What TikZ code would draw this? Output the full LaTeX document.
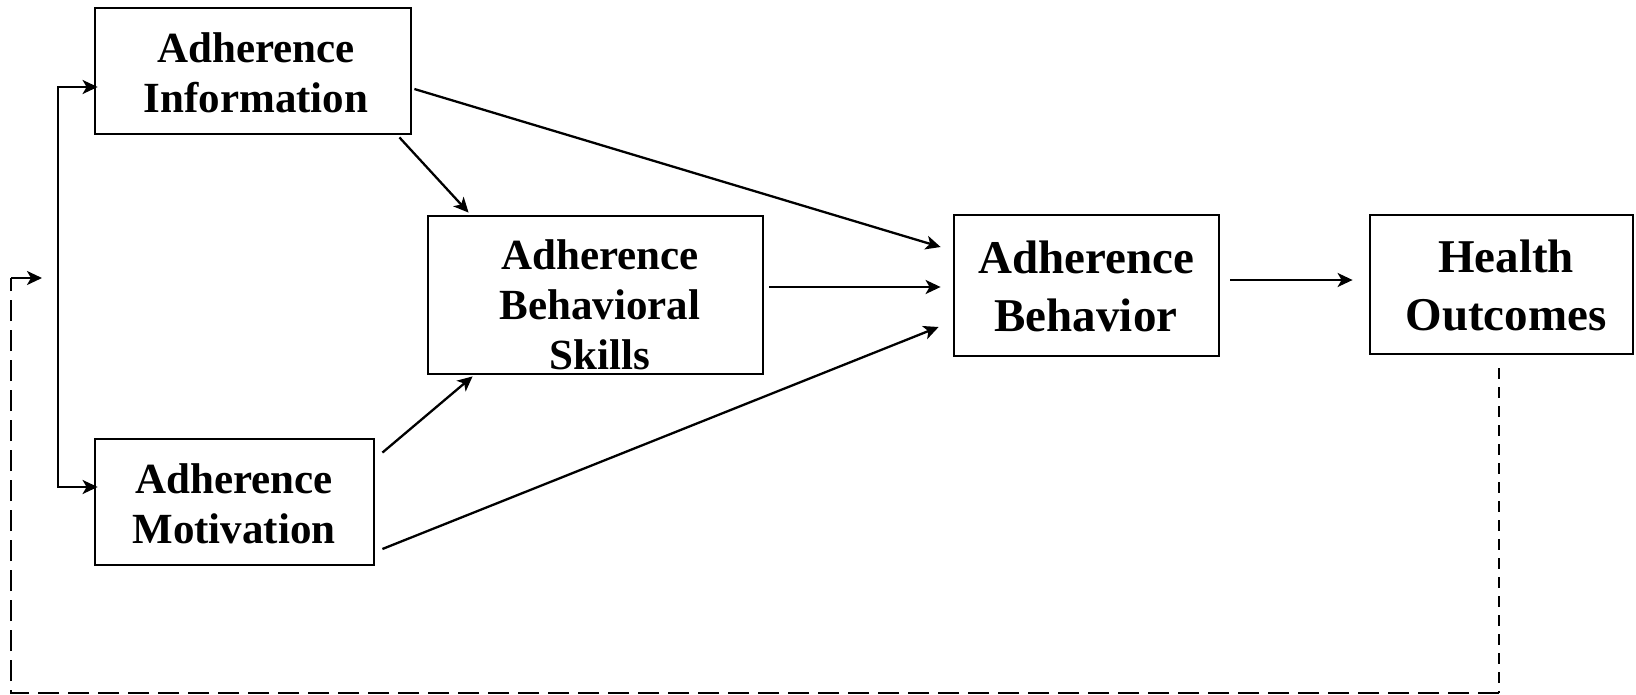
\documentclass[tikz,border=0pt]{standalone}
\usepackage{fontspec}
\setmainfont{Liberation Serif}
\usetikzlibrary{arrows.meta,calc}
\begin{document}
\begin{tikzpicture}[x=1pt,y=-1pt,
  box/.style={draw=black,line width=2.8pt,rectangle,inner sep=0pt},
  lblS/.style={align=center,inner sep=0pt,font={\fontsize{43}{50}\selectfont\bfseries}},
  lblL/.style={align=center,inner sep=0pt,font={\fontsize{47}{58}\selectfont\bfseries}},
  arr/.style={line width=2.3pt,-{Stealth[length=15pt,width=14pt,inset=4pt]}},
  arrboth/.style={line width=2.3pt,{Stealth[length=15pt,width=14pt,inset=4pt]}-{Stealth[length=15pt,width=14pt,inset=4pt]}},
  dlong/.style={line width=2.2pt,dash pattern=on 21pt off 9pt},
  dshort/.style={line width=2.8pt,dash pattern=on 11pt off 8pt}
]
\useasboundingbox (0,0) rectangle (1636,695);

% boxes
\node[box,minimum width=316pt,minimum height=126pt] (info)   at (253,71)     {};
\node[box,minimum width=279pt,minimum height=126pt] (motiv)  at (234.5,502)  {};
\node[box,minimum width=335pt,minimum height=158pt] (skills) at (595.5,295)  {};
\node[box,minimum width=265pt,minimum height=141pt] (behav)  at (1086.5,285.5) {};
\node[box,minimum width=263pt,minimum height=139pt] (health) at (1501.5,284.5) {};

% texts
\node[lblS] (infoT)   at (256,72.5)   {Adherence\\Information};
\node[lblS] (motivT)  at (234,504)    {Adherence\\Motivation};
\node[lblS] (skillsT) at (600,305)    {Adherence\\Behavioral\\Skills};
\node[lblL] (behavT)  at (1086,286.5) {Adherence\\Behavior};
\node[lblL] (healthT) at (1506,285)   {Health\\Outcomes};

% connectors
\draw[arr] ($(info.east)+(2,18)$) -- ($(behav.west)+(-12,-38.5)$);
\draw[arr] ($(info.south east)+(-13,2)$) -- ($(skills.north west)+(42,-2)$);
\draw[arr] ($(skills.east)+(5,-8)$) -- ($(behav.west)+(-12,1.5)$);
\draw[arr] ($(motiv.north east)+(7,15)$) -- ($(skills.south west)+(46,1)$);
\draw[arr] ($(motiv.east)+(7,47)$) -- ($(behav.west)+(-14,41.5)$);
\draw[arr] ($(behav.east)+(10,-5.5)$) -- ($(health.west)+(-16,-4.5)$);

% bracket to information and motivation
\coordinate (brM) at (58,287);
\draw[arrboth,line join=miter] ($(info.west)+(4,16)$) -| (brM) |- ($(motiv.west)+(4,-15)$);

% feedback loop
\coordinate (fbR) at (1499,693);
\coordinate (fbL) at (11,693);
\coordinate (fbT) at (11,278);
\coordinate (fbE) at (42,278);
\draw[dshort] ($(health.south)+(-2.5,13)$) -- (fbR);
\draw[dlong] (fbR) -- (fbL) -- (fbT);
\draw[arr] (fbT) -- (fbE);
\end{tikzpicture}
\end{document}
